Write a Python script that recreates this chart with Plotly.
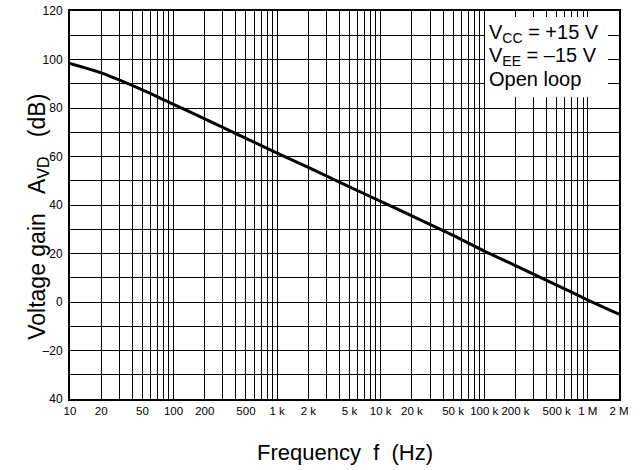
import plotly.graph_objects as go

# Open-loop voltage gain vs frequency
freq_hz = [10, 20, 50, 100, 200, 500, 1e3, 2e3, 5e3, 1e4, 2e4, 5e4,
           1e5, 2e5, 5e5, 1e6, 2e6]
gain_db = [98.4, 94.5, 87.5, 81.5, 75.5, 67.5, 61.4, 55.5, 47.5, 41.5,
           35.5, 27.5, 21.0, 15.0, 7.0, 0.8, -5.0]

# Axis tick labels
x_label_vals = [10, 20, 50, 100, 200, 500, 1e3, 2e3, 5e3, 1e4, 2e4, 5e4,
                1e5, 2e5, 5e5, 1e6, 2e6]
x_label_text = ["10", "20", "50", "100", "200", "500", "1 k", "2 k", "5 k",
                "10 k", "20 k", "50 k", "100 k", "200 k", "500 k", "1 M", "2 M"]
y_label_vals = [120, 100, 80, 60, 40, 20, 0, -20, -40]
y_label_text = ["120", "100", "80", "60", "40", "20", "0", "\u201320", "40"]

legend_lines = ["V<sub>CC</sub> = +15 V", "V<sub>EE</sub> = \u201315 V", "Open loop"]

FONT = "Liberation Sans, Arial, sans-serif"
NB = "\u00a0"

# grid at every 1..9 x 10^n, labels only at 1-2-5
x_grid = []
for n in range(1, 7):
    for d in range(1, 10):
        x_grid.append(d * 10 ** n)
x_grid.append(2e6)
x_text = []
for v in x_grid:
    match = [t for lv, t in zip(x_label_vals, x_label_text) if abs(lv - v) < 1e-6 * v]
    x_text.append(match[0] if match else "")

y_grid = list(range(-40, 121, 10))
y_text = []
for v in y_grid:
    match = [t for lv, t in zip(y_label_vals, y_label_text) if lv == v]
    y_text.append(match[0] if match else "")

fig = go.Figure()
fig.add_trace(go.Scatter(
    x=freq_hz, y=gain_db, mode="lines",
    line=dict(color="black", width=3, shape="spline", smoothing=0.6),
    hoverinfo="skip", showlegend=False,
))

fig.update_xaxes(
    type="log", range=[1, 6.30103],
    tickmode="array", tickvals=x_grid, ticktext=x_text, tickangle=0,
    showgrid=True, gridcolor="black", gridwidth=1,
    showline=True, linecolor="black", linewidth=2, mirror=True,
    ticks="", tickfont=dict(family=FONT, size=11.5, color="black"),
    zeroline=False, automargin=False,
)
fig.update_yaxes(
    range=[-40, 120],
    tickmode="array", tickvals=y_grid, ticktext=y_text,
    showgrid=True, gridcolor="black", gridwidth=1,
    showline=True, linecolor="black", linewidth=2, mirror=True,
    ticks="", tickfont=dict(family=FONT, size=12, color="black"),
    ticklabelstandoff=3,
    zeroline=False, automargin=False,
)

# axis titles
fig.add_annotation(xref="paper", yref="paper", x=0.5, y=-0.137,
                   xanchor="center", yanchor="middle", showarrow=False,
                   text="Frequency" + NB * 2 + "f" + NB * 2 + "(Hz)",
                   font=dict(family=FONT, size=22, color="black"))
fig.add_annotation(xref="paper", yref="paper", x=-0.058, y=0.47,
                   xanchor="center", yanchor="middle", showarrow=False,
                   textangle=-90,
                   text="Voltage gain" + NB * 3 + "A<sub>VD</sub>" + NB * 3 + "(dB)",
                   font=dict(family=FONT, size=23, color="black"))

# white panel for the test conditions
fig.add_shape(type="rect", xref="paper", yref="paper",
              x0=0.756, x1=0.98, y0=0.778, y1=0.9845,
              fillcolor="white", line=dict(width=0), layer="above")
for txt, yy in zip(legend_lines, [0.942, 0.882, 0.824]):
    fig.add_annotation(xref="paper", yref="paper", x=0.76, y=yy,
                       xanchor="left", yanchor="middle", text=txt, showarrow=False,
                       font=dict(family=FONT, size=20, color="black"))

fig.update_layout(
    width=640, height=470,
    margin=dict(l=70, r=21, t=11, b=71),
    paper_bgcolor="white", plot_bgcolor="white",
    font=dict(family=FONT, color="black"),
)

fig.write_html("out.html")
